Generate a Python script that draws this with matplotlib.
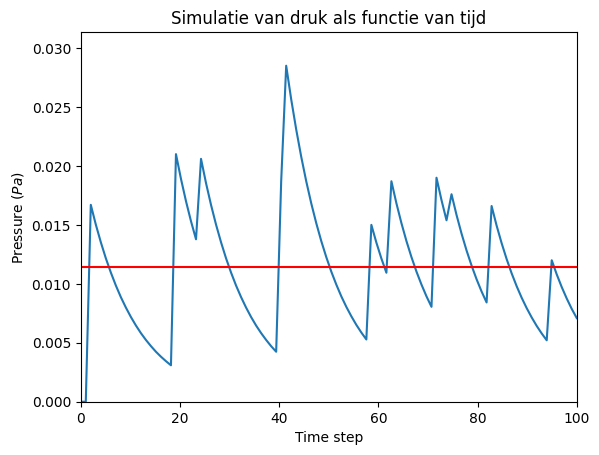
import numpy as np
import matplotlib
matplotlib.use('Agg')
import matplotlib.pyplot as plt

# pressure per time step (100 steps between 0 and 100)
pressure = [
    0.0, 0.0, 0.01670, 0.01503, 0.01353, 0.01217, 0.01096, 0.00986, 0.00887, 0.00799,
    0.00719, 0.00647, 0.00582, 0.00524, 0.00472, 0.00424, 0.00382, 0.00344, 0.00309,
    0.02100, 0.01890, 0.01701, 0.01531, 0.01378,
    0.02060, 0.01854, 0.01669, 0.01502, 0.01352, 0.01216, 0.01095, 0.00985, 0.00887,
    0.00798, 0.00718, 0.00646, 0.00582, 0.00524, 0.00471, 0.00424,
    0.01870,
    0.02850, 0.02565, 0.02309, 0.02078, 0.01870, 0.01683, 0.01515, 0.01363, 0.01227,
    0.01104, 0.00994, 0.00894, 0.00805, 0.00725, 0.00652, 0.00587, 0.00528,
    0.01500, 0.01350, 0.01215, 0.01094,
    0.01870, 0.01683, 0.01515, 0.01363, 0.01227, 0.01104, 0.00994, 0.00894, 0.00805,
    0.01900, 0.01710, 0.01539,
    0.01760, 0.01584, 0.01426, 0.01283, 0.01155, 0.01039, 0.00935, 0.00842,
    0.01660, 0.01494, 0.01345, 0.01210, 0.01089, 0.00980, 0.00882, 0.00794, 0.00715,
    0.00643, 0.00579, 0.00521,
    0.01200, 0.01080, 0.00972, 0.00875, 0.00787, 0.00709,
]

time = np.linspace(0, 100, len(pressure))

mean_pressure = np.mean(pressure)

plt.figure()
plt.plot(time, pressure)
plt.axhline(mean_pressure, color='r')

plt.xlim(0, 100)
plt.ylim(0, 1.1 * max(pressure))

plt.title("Simulatie van druk als functie van tijd")
plt.xlabel("Time step")
plt.ylabel("Pressure ($Pa$)")

plt.savefig('out.png', bbox_inches='tight')
